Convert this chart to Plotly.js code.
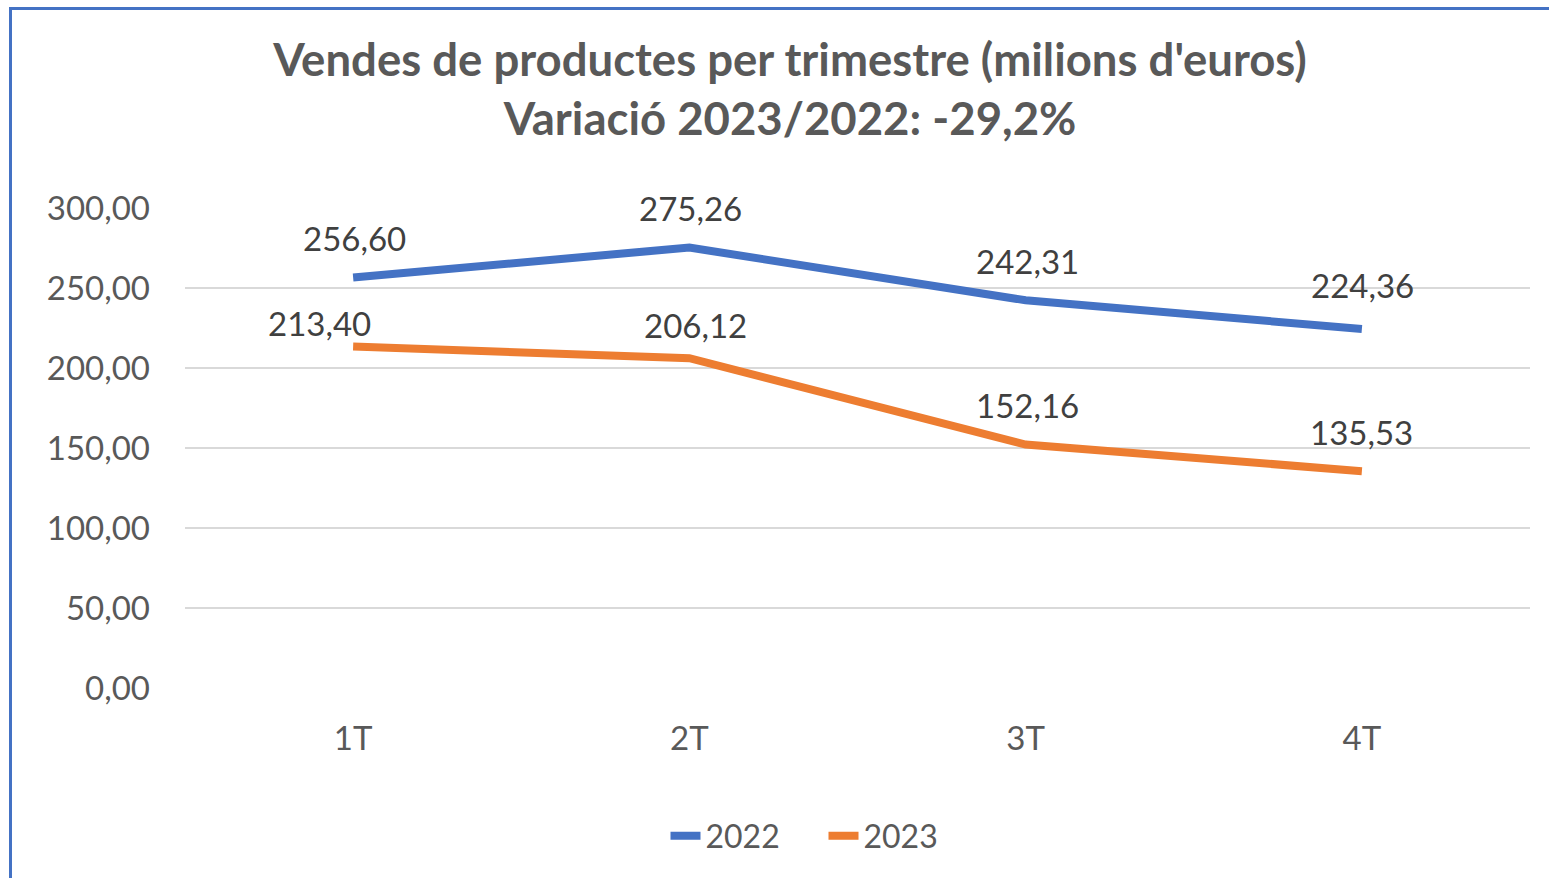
<!DOCTYPE html>
<html>
<head>
<meta charset="utf-8">
<script src="https://cdn.plot.ly/plotly-3.0.1.min.js"></script>
<style>
  html, body { margin: 0; padding: 0; background: #fff; overflow: hidden; }
  #chart { position: absolute; left: 0; top: 0; width: 1549px; height: 878px; }
  #frame { position: absolute; left: 9px; top: 7px; right: -5px; bottom: -5px;
           border-left: 3px solid #4472C4; border-top: 3px solid #4472C4; pointer-events: none; }
</style>
</head>
<body>
<div id="chart"></div>
<div id="frame"></div>
<script>
// ---- data ----
const categories = ["1T", "2T", "3T", "4T"];
const seriesNames = ["2022", "2023"];
const values2022 = [256.60, 275.26, 242.31, 224.36];
const values2023 = [213.40, 206.12, 152.16, 135.53];
const yTickValues = [0, 50, 100, 150, 200, 250, 300];

// ---- styling ----
const colors = ["#4472C4", "#ED7D31"];
const labelShiftY = [[39, 40, 39, 44], [24, 33, 40, 39]];
const labelShiftX = [[1, 1, 2, 1], [-34, 6, 2, 0]];
const FONT = "Lato, 'Open Sans', sans-serif";

function fmt(v) { return v.toFixed(2).replace(".", ","); }

const allSeries = [values2022, values2023];
const traces = allSeries.map((vals, i) => ({
  type: "scatter",
  mode: "lines",
  name: seriesNames[i],
  x: categories,
  y: vals,
  line: { color: colors[i], width: 8 },
  hoverinfo: "skip"
}));

const annotations = [];
allSeries.forEach((vals, i) => {
  vals.forEach((v, j) => {
    annotations.push({
      x: categories[j], y: v, xref: "x", yref: "y",
      text: fmt(v), showarrow: false,
      xanchor: "center", yanchor: "middle",
      xshift: labelShiftX[i][j], yshift: labelShiftY[i][j],
      font: { family: FONT, size: 33, color: "#404040" }
    });
  });
});

const layout = {
  width: 1549, height: 878,
  paper_bgcolor: "#ffffff", plot_bgcolor: "#ffffff",
  margin: { l: 185, r: 19, t: 208, b: 190 },
  showlegend: true,
  title: {
    text: "<b>Vendes de productes per trimestre (milions d'euros)<br>Variació 2023/2022: -29,2%</b>",
    font: { family: FONT, size: 45.5, color: "#595959" },
    x: 790 / 1549, xref: "container", xanchor: "center",
    y: 1 - 76 / 878, yref: "container", yanchor: "top"
  },
  xaxis: {
    type: "category",
    range: [-0.5, 3.5],
    showgrid: false, zeroline: false, showline: false,
    ticks: "",
    ticklabelstandoff: 28,
    tickfont: { family: FONT, size: 33, color: "#595959" }
  },
  yaxis: {
    range: [0, 300],
    tickvals: yTickValues,
    ticktext: yTickValues.map(fmt),
    showgrid: true, gridcolor: "#D9D9D9", gridwidth: 2,
    zeroline: false, showline: false,
    ticks: "",
    ticklabelstandoff: 34,
    tickfont: { family: FONT, size: 33, color: "#595959" }
  },
  legend: {
    orientation: "h",
    x: 0.5 + 49 / 1549, xref: "container", xanchor: "center",
    y: 1 - 836 / 878, yref: "container", yanchor: "middle",
    font: { family: FONT, size: 32, color: "#595959" },
    itemwidth: 30, tracegroupgap: 0,
    entrywidth: 113
  },
  annotations: annotations
};

Plotly.newPlot("chart", traces, layout, { displayModeBar: false, staticPlot: true });
</script>
</body>
</html>
